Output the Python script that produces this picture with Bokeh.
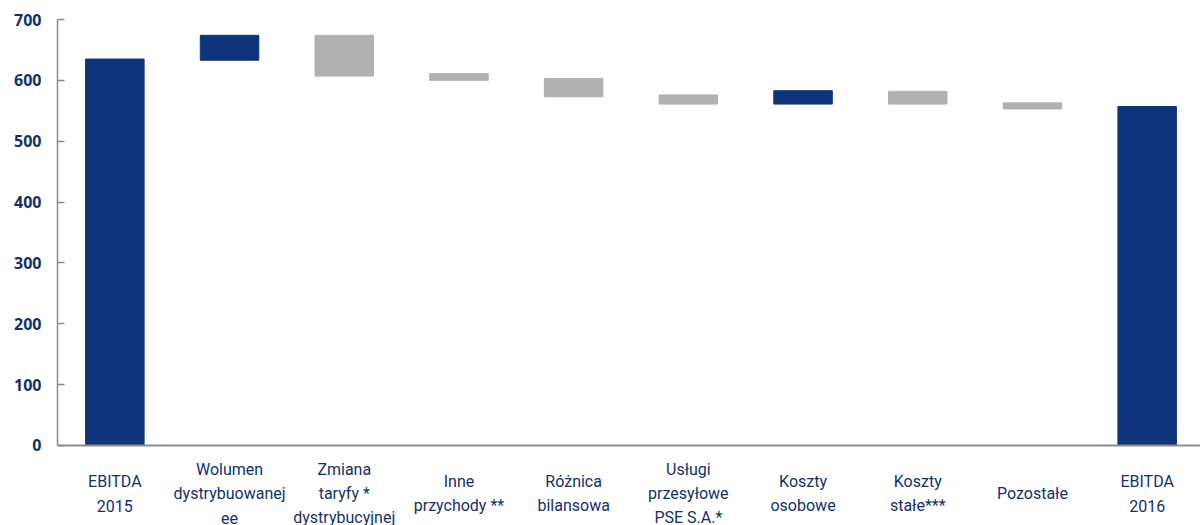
from bokeh.plotting import figure
from bokeh.models import ColumnDataSource, LabelSet, FixedTicker, Range1d, Span
from bokeh.core.properties import value
from bokeh.embed import file_html
from bokeh.resources import INLINE

# EBITDA bridge 2015 -> 2016 (mln zł)
categories = [
    "EBITDA\n2015",
    "Wolumen\ndystrybuowanej\nee",
    "Zmiana\ntaryfy *\ndystrybucyjnej",
    "Inne\nprzychody **",
    "Różnica\nbilansowa",
    "Usługi\nprzesyłowe\nPSE S.A.*",
    "Koszty\nosobowe",
    "Koszty\nstałe***",
    "Pozostałe",
    "EBITDA\n2016",
]
step_from = [0, 633, 674, 611, 603, 576, 561, 582, 563, 0]
step_to = [635, 674, 607, 600, 573, 561, 583, 561, 553, 557]
y_ticks = [0, 100, 200, 300, 400, 500, 600, 700]

NAVY = "#0f347a"
GREY = "#b1b1b1"
TEXT = "#14306b"
AXIS = "#8c8c8c"

xs = list(range(len(categories)))
colors = [NAVY if b >= a else GREY for a, b in zip(step_from, step_to)]
colors[0] = NAVY
colors[-1] = NAVY

bars = ColumnDataSource(dict(
    x=xs,
    bottom=[min(a, b) for a, b in zip(step_from, step_to)],
    top=[max(a, b) for a, b in zip(step_from, step_to)],
    color=colors,
))

# one entry per label line, each block centred vertically under the axis
LABEL_MID = -79.0     # data units below zero
LINE_STEP = 39.4      # data units between lines
lx, ly, lt = [], [], []
for x, cat in zip(xs, categories):
    lines = cat.split("\n")
    n = len(lines)
    for i, line in enumerate(lines):
        lx.append(x)
        ly.append(LABEL_MID - (i - (n - 1) / 2) * LINE_STEP)
        lt.append(line)
labels = ColumnDataSource(dict(x=lx, y=ly, text=lt))

# the frame runs down to the page bottom so the category labels sit inside it
p = figure(
    width=1200, height=525,
    x_range=Range1d(-0.5, 9.465), y_range=Range1d(-131.5, 700),
    output_backend="svg", toolbar_location=None,
    min_border_left=57, min_border_right=0, min_border_top=19, min_border_bottom=0,
)
p.outline_line_color = None
p.xgrid.visible = False
p.ygrid.visible = False
p.xaxis.visible = False
p.background_fill_color = "white"
p.border_fill_color = "white"

p.vbar(x="x", bottom="bottom", top="top", width=0.51, color="color", source=bars)

# baseline at zero
p.add_layout(Span(location=0, dimension="width", line_color=AXIS, line_width=2))

# y axis limited to 0..700
yax = p.yaxis[0]
yax.bounds = (0, 700)
yax.ticker = FixedTicker(ticks=y_ticks)
yax.axis_line_color = AXIS
yax.axis_line_width = 1.5
yax.major_tick_line_color = AXIS
yax.major_tick_line_width = 1.5
yax.major_tick_in = 7
yax.major_tick_out = 0
yax.minor_tick_line_color = None
yax.major_label_standoff = 16
yax.major_label_text_font = "Open Sans"
yax.major_label_text_font_style = "bold"
yax.major_label_text_font_size = "16px"
yax.major_label_text_color = TEXT

cat_labels = LabelSet(
    x="x", y="y", text="text", source=labels,
    text_align="center", text_baseline="middle",
    text_font=value("Roboto"), text_font_size="16px",
    text_color=TEXT,
)
p.add_layout(cat_labels)

open("out.html", "w").write(file_html(p, INLINE))
